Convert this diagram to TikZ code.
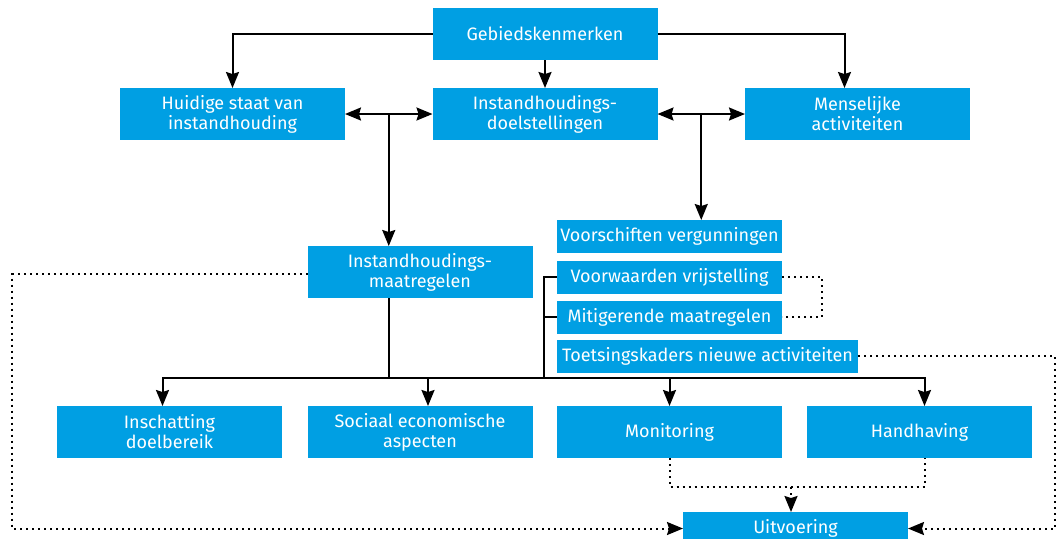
\documentclass[tikz,border=0pt]{standalone}
\usepackage{fontspec}
\setmainfont{Fira Sans}
\usepackage{tikz}
\usetikzlibrary{calc}
\usetikzlibrary{arrows.meta}
\definecolor{rijksblauw}{RGB}{0,159,227}

\begin{document}
\begin{tikzpicture}[x=0.5pt,y=-0.5pt,
    every node/.style={inner sep=0,outer sep=0,font=\fontsize{9}{10}\selectfont},
    box/.style={fill=rijksblauw,text=white,align=center,minimum width=112.5pt,minimum height=26pt},
    smallbox/.style={box,minimum height=16.5pt},
    arr/.style={line width=1pt,-{Stealth[length=8pt,width=6.5pt,inset=1pt]}},
    arrboth/.style={line width=1pt,{Stealth[length=8pt,width=6.5pt,inset=1pt]}-{Stealth[length=8pt,width=6.5pt,inset=1pt]}},
    dots/.style={line width=1pt,dash pattern=on 1pt off 2pt}]
    \useasboundingbox (0,0) rectangle (1061,538);

    \node[box](geb) at (545,34) {Gebiedskenmerken};
    \node[box](huid) at (232.5,114) {Huidige staat van\\instandhouding};
    \node[box](doel) at (545,114) {Instandhoudings-\\doelstellingen};
    \node[box](mens) at (857.5,114) {Menselijke\\activiteiten};
    \draw[arr] (geb.west) -| (huid.north);
    \draw[arr] (geb.south) -- (doel.north);
    \draw[arr] (geb.east) -| ($(-13,0) + (mens.north)$);

    \node[box](maat) at (420,272) {Instandhoudings-\\maatregelen};
    \node[smallbox](voor) at (669.5,236.5) {Voorschiften vergunningen};
    \node[smallbox](vrij) at (669.5,277) {Voorwaarden vrijstelling};
    \node[smallbox](mitig) at (669.5,317) {Mitigerende maatregelen};
    \node[smallbox,minimum width=150.5pt](toets) at (707.5,356) {Toetsingskaders nieuwe activiteiten};

    \draw[arrboth] (huid.east) -- (doel.west);
    \draw[arrboth] (doel.east) -- (mens.west);
    \coordinate (b1) at ($(huid.east)!0.5!(doel.west)$);
    \coordinate (b2) at ($(doel.east)!0.5!(mens.west)$);
    \draw[arr] (b1) -- (b1 |- maat.north);
    \draw[arr] (b2) -- (b2 |- voor.north);

    \node[box](insch) at (169.5,432) {Inschatting\\doelbereik};
    \node[box](soc) at (420,432) {Sociaal economische\\aspecten};
    \node[box](moni) at (669.5,432) {Monitoring};
    \node[box](hand) at (919.5,432) {Handhaving};
    \node[smallbox](uitv) at (795.5,528.5) {Uitvoering};

    % bus under the measures
    \coordinate (bus) at (b1 |- 0,378);
    \coordinate (brk) at (544,378);
    \draw[line width=1pt] (b1 |- maat.south) -- (bus);
    \draw[arr] (bus) -| ($(-7,0) + (insch.north)$);
    \draw[arr] (bus) -| ($(8,0) + (soc.north)$);
    \draw[arr] (bus) -| (moni.north);
    \draw[arr] (bus) -| ($(5,0) + (hand.north)$);
    \draw[line width=1pt] (brk) |- (vrij.west);
    \draw[line width=1pt] (brk |- mitig.west) -- (mitig.west);

    % dotted links
    \coordinate (lft) at (12,274);
    \coordinate (rgt) at (1055,356);
    \coordinate (vm) at (822,277);
    \coordinate (mh) at (791,487);
    \draw[dots] (vrij.east) -- (vm) |- (mitig.east);
    \draw[dots,-{Stealth[length=8pt,width=6.5pt,inset=1pt]}] (maat.west |- lft) -- (lft) |- (uitv.west);
    \draw[dots,-{Stealth[length=8pt,width=6.5pt,inset=1pt]}] (toets.east) -- (rgt) |- (uitv.east);
    \draw[dots] (moni.south) |- (mh) -| ($(5,0) + (hand.south)$);
    \draw[dots,-{Stealth[length=8pt,width=6.5pt,inset=1pt]}] (mh) -- (mh |- uitv.north);
\end{tikzpicture}
\end{document}
